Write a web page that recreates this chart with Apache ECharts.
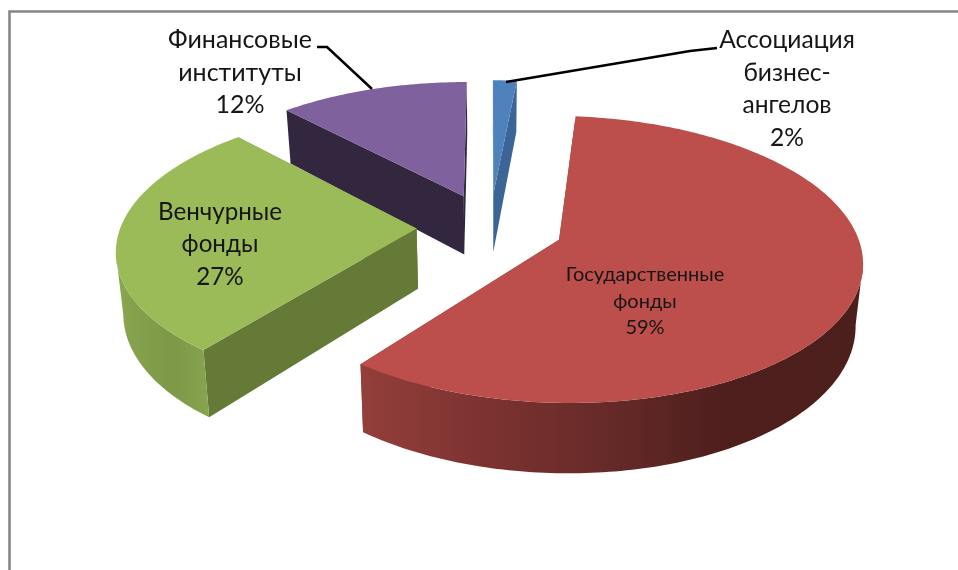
<!DOCTYPE html>
<html><head><meta charset="utf-8">
<style>html,body{margin:0;padding:0;background:#fff}#c{width:958px;height:570px}</style>
<script src="https://cdn.jsdelivr.net/npm/echarts@6/dist/echarts.min.js"></script>
</head><body><div id="c"></div>
<script>
// --- data ---
const categories = ["Ассоциация\nбизнес-\nангелов", "Государственные\nфонды", "Венчурные\nфонды", "Финансовые\nинституты"];
const values = [1.5, 59, 27.4, 12];

// --- styles ---
const topColors = ["#4f81bd", "#bc4e4b", "#9bbb59", "#7f619d"];
const faceColors = ["#3c6597", "#8a3a37", "#667a37", "#33273f"];
const wallStops = [
  [[0, "#3c6597"], [1, "#3c6597"]],
  [[0, "#933f3b"], [0.25, "#7c3230"], [0.5, "#652a28"], [0.72, "#4e1f1d"], [1, "#4c1e1c"]],
  [[0, "#8aa650"], [0.6, "#7d9847"], [1, "#88a450"]],
  [[0, "#33273f"], [1, "#33273f"]]
];

// --- 3D pie projection ---
const view = { cx: 490, cy: 227, R: 296, K: 137.4, p: 0.135, depth: 60, explode: 0.248, lowerX: 0.98 };

// --- label layout ---
const labelFont = "Lato, 'Open Sans', sans-serif";
const labelBoxes = [
  { x: 787, y: 89, size: 24.6, lh: 32.8 },
  { x: 645, y: 301.5, size: 20, lh: 26.5 },
  { x: 220, y: 244.5, size: 24.2, lh: 32.5 },
  { x: 240, y: 72.5, size: 25, lh: 32.5 }
];
const leaders = [
  [[506, 82], [690, 51], [717, 48]],
  null,
  null,
  [[317, 47], [327, 47], [372, 89]]
];

const total = values.reduce((a, b) => a + b, 0);
const rad = d => d * Math.PI / 180;
const starts = [];
values.reduce((acc, v, i) => { starts[i] = acc; return acc + v / total * 360; }, 0);

function project(X, Y, lower) {
  const s = 1 / (1 - view.p * Y);
  const x = view.R * X * s;
  return [view.cx + (lower ? x * view.lowerX : x),
          view.cy + view.K * Y * s + (lower ? view.depth * s : 0)];
}

function renderSlice(params, api) {
  const i = params.dataIndex;
  const sweep = api.value(0) / total * 360;
  const a0 = starts[i], a1 = a0 + sweep, mid = rad(a0 + sweep / 2);
  const ox = Math.sin(mid) * view.explode, oy = -Math.cos(mid) * view.explode;
  const pt = (deg, lower) => project(ox + Math.sin(rad(deg)), oy - Math.cos(rad(deg)), lower);
  const apexT = project(ox, oy, false), apexB = project(ox, oy, true);

  const n = Math.max(6, Math.ceil(sweep));
  const angles = [];
  for (let k = 0; k <= n; k++) angles.push(a0 + sweep * k / n);

  const base = Math.round((oy + 2) * 100);
  const children = [];

  // radial faces (back-facing ones end up hidden by the top surface)
  [a0, a1].forEach((d, k) => {
    children.push({ type: "polygon", z2: base + k,
      shape: { points: [apexT, pt(d, false), pt(d, true), apexB] },
      style: { fill: faceColors[i] }, silent: true });
  });

  // outer wall: only the runs that face the viewer
  let run = [];
  const flush = () => {
    if (run.length > 1) {
      const upper = run.map(d => pt(d, false));
      const lower = run.map(d => pt(d, true)).reverse();
      children.push({ type: "polygon", z2: base + 3,
        shape: { points: upper.concat(lower) },
        style: { fill: { type: "linear", x: 1, y: 0, x2: 0, y2: 0,
          colorStops: wallStops[i].map(([o, c]) => ({ offset: 1 - o, color: c })) } },
        silent: true });
    }
    run = [];
  };
  for (let k = 0; k < n; k++) {
    const facing = pt(angles[k + 1], false)[0] < pt(angles[k], false)[0];
    if (facing) {
      if (!run.length) run.push(angles[k]);
      run.push(angles[k + 1]);
    } else flush();
  }
  flush();

  // top surface
  children.push({ type: "polygon", z2: base + 4,
    shape: { points: [apexT].concat(angles.map(d => pt(d, false))) },
    style: { fill: topColors[i] }, silent: true });

  // leader line
  if (leaders[i]) {
    children.push({ type: "polyline", z2: 1000,
      shape: { points: leaders[i] },
      style: { stroke: "#000", lineWidth: 2.5, fill: null }, silent: true });
  }

  // label
  const b = labelBoxes[i];
  children.push({ type: "text", z2: 1001, silent: true,
    style: {
      text: categories[i] + "\n" + Math.round(api.value(0) / total * 100) + "%",
      x: b.x, y: b.y, align: "center", verticalAlign: "middle",
      fontFamily: labelFont, fontSize: b.size, lineHeight: b.lh, fill: "#161616"
    } });

  return { type: "group", children };
}

const chart = echarts.init(document.getElementById("c"), null, { renderer: "canvas" });
chart.setOption({
  animation: false,
  backgroundColor: "#fff",
  graphic: [{
    type: "polyline", z: -1, silent: true,
    shape: { points: [[9.5, 570], [9.5, 11.5], [958, 11.5]] },
    style: { stroke: "#878787", lineWidth: 2.6, fill: null }
  }],
  series: [{
    type: "custom",
    coordinateSystem: "none",
    clip: false,
    data: values.map(v => [v]),
    renderItem: renderSlice
  }]
});
</script></body></html>
